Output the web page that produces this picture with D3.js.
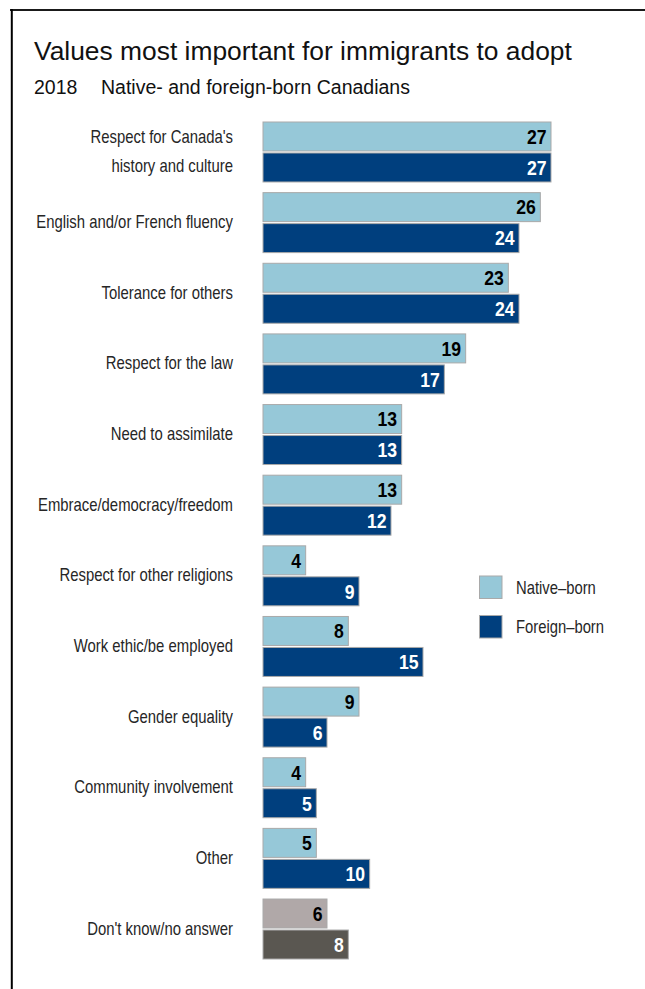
<!DOCTYPE html>
<html>
<head>
<meta charset="utf-8">
<script src="https://cdn.jsdelivr.net/npm/d3@7"></script>
<style>
  html, body { margin: 0; padding: 0; background: #fff; }
  svg { display: block; }
</style>
</head>
<body>
<script>
// ---- data ----
const categories = [
  ["Respect for Canada's", "history and culture"],
  ["English and/or French fluency"],
  ["Tolerance for others"],
  ["Respect for the law"],
  ["Need to assimilate"],
  ["Embrace/democracy/freedom"],
  ["Respect for other religions"],
  ["Work ethic/be employed"],
  ["Gender equality"],
  ["Community involvement"],
  ["Other"],
  ["Don't know/no answer"]
];
const nativeBorn  = [27, 26, 23, 19, 13, 13, 4, 8, 9, 4, 5, 6];
const foreignBorn = [27, 24, 24, 17, 13, 12, 9, 15, 6, 5, 10, 8];
const seriesNames = ["Native–born", "Foreign–born"];
const title = "Values most important for immigrants to adopt";
const subtitleYear = "2018";
const subtitleText = "Native- and foreign-born Canadians";

// ---- layout ----
const W = 645, H = 989;
const arial = "'Liberation Sans', Arial, sans-serif";
const colors = {
  native: "#96c8d8", foreign: "#003f7e",
  nativeNA: "#b0a8a8", foreignNA: "#5a5751",
  stroke: "#a9a9a9"
};
const labelScale = 0.85, valueScale = 0.86, legendScale = 0.8;

const svg = d3.select("body").append("svg").attr("width", W).attr("height", H);

// frame
svg.append("line").attr("x1", 10).attr("x2", W).attr("y1", 10).attr("y2", 10)
  .attr("stroke", "#1a1a1a").attr("stroke-width", 2);
svg.append("line").attr("x1", 11.8).attr("x2", 11.8).attr("y1", 9).attr("y2", H)
  .attr("stroke", "#000").attr("stroke-width", 2);

// titles
svg.append("text").attr("x", 34).attr("y", 59.5)
  .attr("font-family", arial).attr("font-size", 26.4).attr("fill", "#111")
  .text(title);
svg.append("text").attr("x", 34).attr("y", 94)
  .attr("font-family", arial).attr("font-size", 19.5).attr("fill", "#111")
  .text(subtitleYear);
svg.append("text").attr("x", 101).attr("y", 94)
  .attr("font-family", arial).attr("font-size", 19.5).attr("fill", "#111")
  .text(subtitleText);

// scales
const idx = d3.range(categories.length);
const y = d3.scaleBand().domain(idx).range([122, 959]).paddingInner(0.151).paddingOuter(0);
const ySub = d3.scaleBand().domain(["native", "foreign"]).range([0, y.bandwidth()])
  .paddingInner(0.0645).paddingOuter(0);
const x = d3.scaleLinear().domain([0, 27]).range([263, 551]);

const rows = idx.map(i => ({
  i, label: categories[i], native: nativeBorn[i], foreign: foreignBorn[i],
  na: i === categories.length - 1
}));

const g = svg.selectAll("g.cat").data(rows).join("g")
  .attr("class", "cat")
  .attr("transform", d => `translate(0,${y(d.i)})`);

// category labels
g.each(function(d) {
  const sel = d3.select(this);
  const c = y.bandwidth() / 2;
  const n = d.label.length;
  const lh = 29;
  d.label.forEach((line, k) => {
    sel.append("text")
      .attr("transform", `translate(233,${c + 5.5 + (k - (n - 1) / 2) * lh}) scale(${labelScale},1)`)
      .attr("text-anchor", "end")
      .attr("font-family", arial).attr("font-size", 17.5).attr("fill", "#262626")
      .text(line);
  });
});

// bars
["native", "foreign"].forEach(key => {
  g.append("rect")
    .attr("x", x(0))
    .attr("y", ySub(key))
    .attr("width", d => x(d[key]) - x(0))
    .attr("height", ySub.bandwidth())
    .attr("fill", d => d.na ? colors[key + "NA"] : colors[key])
    .attr("stroke", colors.stroke).attr("stroke-width", 1);
  g.append("text")
    .attr("transform", d => `translate(${x(d[key]) - 4.5},${ySub(key) + ySub.bandwidth() / 2 + 7.3}) scale(${valueScale},1)`)
    .attr("text-anchor", "end")
    .attr("font-family", arial).attr("font-weight", "bold").attr("font-size", 20.5)
    .attr("fill", key === "native" ? "#000" : "#fff")
    .text(d => d[key]);
});

// legend
const legend = svg.append("g").attr("transform", "translate(479.5,576)");
const legItems = [
  { name: seriesNames[0], color: colors.native },
  { name: seriesNames[1], color: colors.foreign }
];
const lg = legend.selectAll("g").data(legItems).join("g")
  .attr("transform", (d, i) => `translate(0,${i * 39.5})`);
lg.append("rect").attr("width", 22.5).attr("height", 22.5)
  .attr("fill", d => d.color).attr("stroke", colors.stroke).attr("stroke-width", 1);
lg.append("text").attr("transform", `translate(36.5,17.5) scale(${legendScale},1)`)
  .attr("font-family", arial).attr("font-size", 18.5).attr("fill", "#262626")
  .text(d => d.name);
</script>
</body>
</html>
